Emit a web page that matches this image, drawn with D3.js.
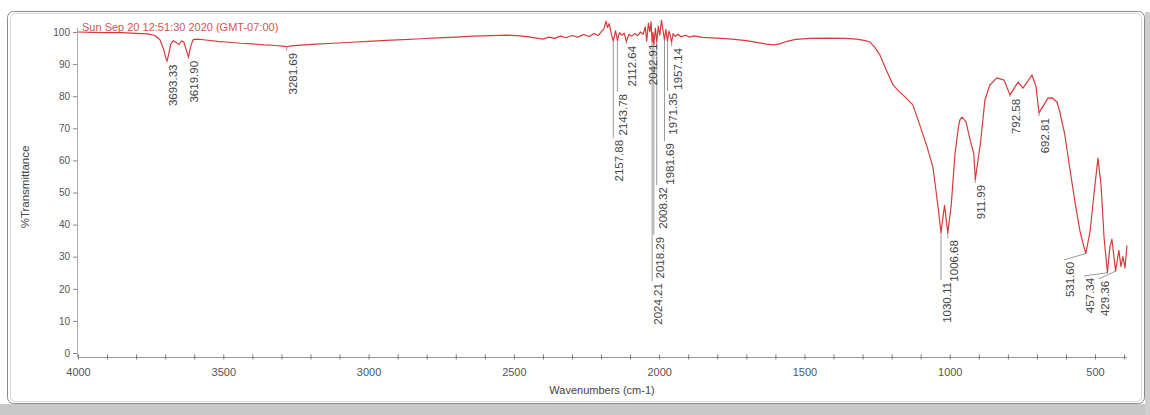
<!DOCTYPE html>
<html>
<head>
<meta charset="utf-8">
<script src="https://cdn.jsdelivr.net/npm/d3@7/dist/d3.min.js"></script>
<style>
  body { margin: 0; background: #fff; }
  svg { display: block; font-family: "Liberation Sans", Arial, sans-serif; }
</style>
</head>
<body>
<div id="chart"></div>
<script>
const width = 1150;
const height = 415;

const title = 'Sun Sep 20 12:51:30 2020 (GMT-07:00)';

// spectrum (cm-1 / %T)
const wavenumbers = [
  4000, 3950, 3900, 3850, 3800, 3760, 3735, 3718, 3706, 3698, 3693.33, 3688, 3681, 3672, 3662,
  3652, 3644, 3636, 3628, 3619.9, 3612, 3604, 3590, 3560, 3520, 3480, 3440, 3400, 3360, 3320,
  3295, 3281.69, 3265, 3230, 3180, 3120, 3060, 3000, 2940, 2880, 2820, 2760, 2700, 2640, 2580,
  2520, 2480, 2450, 2400, 2380, 2360, 2340, 2320, 2300, 2280, 2260, 2240, 2225, 2210, 2198,
  2190, 2183, 2178, 2172, 2165, 2157.88, 2150, 2143.78, 2137, 2128, 2120, 2112.64, 2104, 2094, 2084,
  2074, 2064, 2055, 2048, 2042.91, 2037, 2032, 2028, 2024.21, 2021, 2018.29, 2013, 2008.32, 2003, 1998,
  1992, 1987, 1981.69, 1977, 1971.35, 1966, 1962, 1957.14, 1952, 1945, 1935, 1925, 1910, 1895, 1880,
  1850, 1800, 1750, 1700, 1660, 1630, 1605, 1585, 1560, 1530, 1480, 1420, 1360, 1320, 1290,
  1275, 1258, 1240, 1220, 1195, 1175, 1154, 1127, 1103, 1078, 1058, 1041, 1030.11, 1018, 1006.68,
  995, 982, 970, 965, 958, 944, 930, 917, 911.99, 893, 879, 862, 838, 813, 792.58,
  765, 748, 717, 703, 692.81, 662, 648, 631, 621, 604, 586, 569, 552, 538, 531.6,
  517, 503, 490, 479, 469, 457.34, 449, 442, 435, 429.36, 425, 418, 411, 404, 397, 390
];
const transmittance = [
  100.0, 99.9, 99.8, 99.8, 99.6, 99.4, 98.9, 97.6, 94.8, 92.0, 91.0, 93.0, 96.2, 97.3, 96.7,
  96.1, 97.2, 96.9, 94.6, 92.2, 95.6, 97.6, 97.8, 97.5, 97.1, 96.8, 96.5, 96.3, 96.0, 95.8,
  95.6, 95.4, 95.7, 95.9, 96.2, 96.5, 96.8, 97.1, 97.4, 97.6, 97.9, 98.2, 98.4, 98.7, 98.9,
  99.0, 98.8, 98.5, 97.8, 98.4, 98.0, 98.7, 98.2, 98.9, 98.4, 99.2, 98.6, 99.5, 98.9, 100.2,
  101.0, 103.4, 101.4, 102.6, 99.6, 97.2, 100.4, 97.4, 99.8, 99.0, 99.6, 97.0, 99.3, 98.7, 99.5,
  98.9, 100.0, 99.3, 101.6, 97.2, 102.8, 100.0, 103.2, 96.8, 99.8, 96.0, 101.2, 96.8, 101.8, 99.0,
  103.6, 100.6, 97.5, 100.8, 97.2, 100.3, 99.0, 96.8, 99.5, 98.6, 99.3, 98.5, 99.0, 98.4, 98.8,
  98.3, 98.1, 97.8, 97.3, 96.7, 96.2, 96.0, 96.3, 97.1, 97.7, 98.0, 98.1, 98.0, 97.8, 97.3,
  96.9, 95.2, 92.8, 88.5, 83.5, 81.5, 79.8, 77.3, 71.0, 64.2, 57.9, 46.1, 37.5, 46.0, 37.4,
  46.0, 62.0, 70.5, 72.6, 73.5, 72.0, 66.4, 62.0, 54.0, 66.4, 78.8, 83.5, 85.7, 85.0, 80.4,
  84.4, 82.5, 86.6, 83.0, 74.8, 79.4, 79.5, 78.2, 75.0, 68.0, 57.0, 47.0, 38.0, 33.0, 31.0,
  38.0, 50.0, 60.7, 52.0, 36.0, 25.0, 33.0, 35.5, 30.0, 25.5, 28.0, 32.0, 27.0, 30.0, 26.5, 33.5
];

// peak picks: where the peak is, and where its label line ends (data units)
const peakWn = [3693.33, 3619.90, 3281.69, 2157.88, 2143.78, 2112.64, 2042.91, 2024.21, 2018.29, 2008.32,
  1981.69, 1971.35, 1957.14, 1030.11, 1006.68, 911.99, 792.58, 692.81, 531.60, 457.34, 429.36];
const peakT = [91.0, 92.2, 95.4, 97.2, 97.4, 97.0, 97.2, 96.8, 96.0, 96.8,
  97.5, 97.2, 96.8, 37.5, 37.4, 54.0, 80.4, 74.8, 31.0, 25.0, 25.5];
const labelWn = [3693.33, 3619.90, 3281.69, 2157.88, 2143.78, 2112.64, 2042.91, 2024.21, 2018.29, 2008.32,
  1981.69, 1971.35, 1957.14, 1030.11, 1006.68, 911.99, 792.58, 692.81, 607, 538, 487];
const labelT = [90.5, 91.6, 94.1, 67.0, 81.3, 96.3, 97.0, 22.4, 36.8, 52.3,
  66.0, 81.6, 95.6, 22.7, 35.8, 53.0, 79.8, 73.8, 29.0, 24.0, 23.1];

const xTickLabels = [4000, 3500, 3000, 2500, 2000, 1500, 1000, 500];
const xMinorTicks = d3.range(4000, 399, -100);
const yTickLabels = [0, 10, 20, 30, 40, 50, 60, 70, 80, 90, 100];

const svg = d3.select('#chart')
  .append('svg')
  .attr('width', width)
  .attr('height', height);

// window chrome
svg.append('rect').attr('width', width).attr('height', height).attr('fill', '#fff');
svg.append('rect').attr('x', 0).attr('y', 404).attr('width', width).attr('height', 11).attr('fill', '#c8c8c8');
svg.append('rect').attr('x', 1145).attr('y', 12).attr('width', 5).attr('height', 403).attr('fill', '#cfcfcf');
svg.append('rect')
  .attr('x', 7.5).attr('y', 11.5).attr('width', 1137).attr('height', 392)
  .attr('rx', 6)
  .attr('fill', '#fff')
  .attr('stroke', '#8a8a8a');
svg.append('rect')
  .attr('x', 10.5).attr('y', 13.5).attr('width', 1131).attr('height', 388)
  .attr('rx', 5)
  .attr('fill', 'none')
  .attr('stroke', '#d6d6d6');

const x = d3.scaleLinear().domain([4000, 390]).range([78, 1127]);
const y = d3.scaleLinear().domain([0, 100]).range([353, 32]);

// y axis
const yAxis = svg.append('g')
  .attr('transform', 'translate(77,0)')
  .call(d3.axisLeft(y).tickValues(yTickLabels).tickSize(4).tickPadding(3));
yAxis.select('.domain').remove();
yAxis.selectAll('line').attr('stroke', '#888');
yAxis.selectAll('text').attr('fill', '#555').attr('font-size', 10).attr('font-family', null);
svg.append('line')
  .attr('x1', 77.5).attr('x2', 77.5).attr('y1', 28).attr('y2', 357)
  .attr('stroke', '#aaa');

// x axis
const xAxis = svg.append('g')
  .attr('transform', 'translate(0,357)')
  .call(d3.axisBottom(x)
    .tickValues(xMinorTicks)
    .tickSize(2.5)
    .tickFormat((d) => (xTickLabels.includes(d) ? d : '')));
xAxis.select('.domain').attr('stroke', '#999').attr('d', `M78,0.5H1127`);
xAxis.selectAll('line').attr('y1', -2.5).attr('stroke', '#777');
xAxis.selectAll('text')
  .attr('y', 11)
  .attr('fill', '#555')
  .attr('font-size', 11)
  .attr('font-family', null);

svg.append('text')
  .attr('x', 602)
  .attr('y', 394)
  .attr('text-anchor', 'middle')
  .attr('font-size', 11)
  .attr('fill', '#444')
  .text('Wavenumbers (cm-1)');

svg.append('text')
  .attr('transform', 'translate(29,187) rotate(-90)')
  .attr('text-anchor', 'middle')
  .attr('font-size', 11.5)
  .attr('fill', '#444')
  .text('%Transmittance');

// peak label leaders and texts
const peaks = peakWn.map((w, i) => ({ w, t: peakT[i], lw: labelWn[i], lt: labelT[i] }));

svg.append('g')
  .attr('stroke', '#999')
  .attr('stroke-width', 1)
  .selectAll('line')
  .data(peaks)
  .join('line')
  .attr('x1', (d) => x(d.w))
  .attr('y1', (d) => y(d.t))
  .attr('x2', (d) => x(d.lw))
  .attr('y2', (d) => y(d.lt));

svg.append('g')
  .attr('font-size', 11.5)
  .attr('fill', '#444')
  .selectAll('text')
  .data(peaks)
  .join('text')
  .attr('transform', (d) => `translate(${x(d.lw) + 6},${y(d.lt) + 2}) rotate(-90)`)
  .attr('text-anchor', 'end')
  .attr('dominant-baseline', 'central')
  .text((d) => d.w.toFixed(2));

// title stamp
svg.append('text')
  .attr('x', 82)
  .attr('y', 31)
  .attr('font-size', 11)
  .attr('fill', '#d9534f')
  .text(title);

// spectrum
const line = d3.line()
  .x((d) => x(d[0]))
  .y((d) => y(d[1]));

svg.append('path')
  .datum(d3.zip(wavenumbers, transmittance))
  .attr('fill', 'none')
  .attr('stroke', '#d43c3c')
  .attr('stroke-width', 1.2)
  .attr('stroke-linejoin', 'round')
  .attr('d', line);
</script>
</body>
</html>
